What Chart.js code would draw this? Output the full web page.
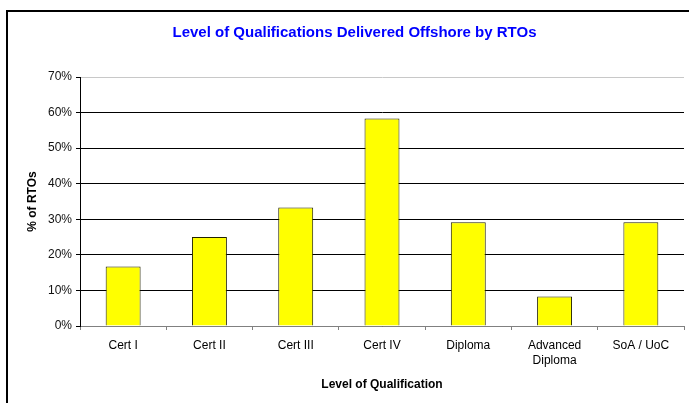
<!DOCTYPE html>
<html>
<head>
<meta charset="utf-8">
<script src="https://cdn.jsdelivr.net/npm/chart.js@4"></script>
<style>
  html, body { margin: 0; padding: 0; background: #fff; }
  #wrap { position: relative; width: 689px; height: 403px; }
  #frame { position: absolute; left: 6px; top: 10px; width: 700px; height: 420px;
           border-left: 2px solid #000; border-top: 2px solid #000; pointer-events: none; }
  canvas { position: absolute; left: 0; top: 0; }
</style>
</head>
<body>
<div id="wrap">
  <canvas id="c" width="689" height="403"></canvas>
  <div id="frame"></div>
</div>
<script>
const categories = ["Cert I", "Cert II", "Cert III", "Cert IV", "Diploma", ["Advanced", "Diploma"], "SoA / UoC"];
const percentRTOs = [16.7, 25.0, 33.3, 58.3, 29.2, 8.3, 29.2];
const yTicks = [0, 10, 20, 30, 40, 50, 60, 70];

const FONT = "'Liberation Sans', Arial, sans-serif";

new Chart(document.getElementById('c'), {
  type: 'bar',
  data: {
    labels: categories,
    datasets: [{
      data: percentRTOs,
      backgroundColor: '#FFFF00',
      borderColor: '#222200',
      borderWidth: 1,
      barPercentage: 0.405,
      categoryPercentage: 1.0
    }]
  },
  options: {
    responsive: false,
    animation: false,
    devicePixelRatio: 1,
    layout: { padding: { left: 25, right: 5, top: 0, bottom: 11 } },
    plugins: {
      legend: { display: false },
      tooltip: { enabled: false },
      title: {
        display: true,
        text: 'Level of Qualifications Delivered Offshore by RTOs',
        color: '#0000FF',
        font: { family: FONT, size: 15, weight: 'bold' },
        padding: { top: 24, bottom: 35 }
      }
    },
    scales: {
      x: {
        grid: { display: true, drawOnChartArea: false, drawTicks: true, tickLength: 4, color: '#808080', offset: true },
        border: { color: '#808080', width: 1 },
        ticks: { color: '#000', font: { family: FONT, size: 12, lineHeight: 1.25 }, padding: 8, maxRotation: 0, autoSkip: false },
        title: { display: true, text: 'Level of Qualification', color: '#000',
                 font: { family: FONT, size: 12, weight: 'bold' }, padding: { top: 6, bottom: 0 } },
        afterFit: (s) => { s.height = 66; }
      },
      y: {
        min: 0, max: 70,
        afterBuildTicks: (s) => { s.ticks = yTicks.map(v => ({ value: v })); },
        grid: {
          color: (ctx) => (ctx.tick && ctx.tick.value === 70) ? '#c8c8c8' : '#000',
          tickColor: '#000',
          tickLength: 4,
          drawTicks: true
        },
        border: { color: '#000', width: 1 },
        ticks: { color: '#111', font: { family: FONT, size: 12 }, padding: 4,
                 callback: (v) => v + '%' },
        title: { display: true, text: '% of RTOs', color: '#000',
                 font: { family: FONT, size: 12, weight: 'bold' }, padding: { top: 0, bottom: 6 } },
        afterFit: (s) => { s.width = 55; }
      }
    }
  }
});
</script>
</body>
</html>
